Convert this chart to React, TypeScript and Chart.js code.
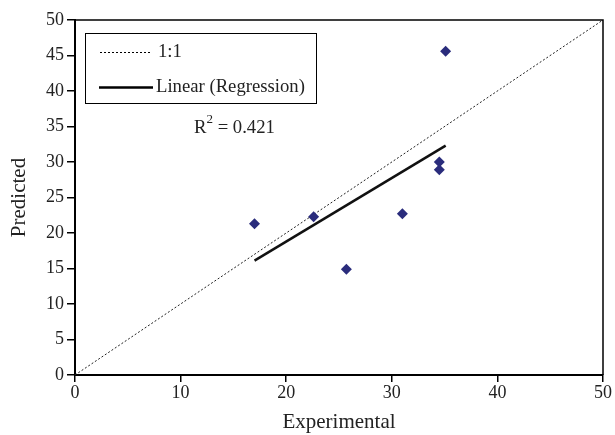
import React, { useEffect, useRef } from "react";
import { Chart, registerables } from "chart.js";

Chart.register(...registerables);

const experimental = [17.0, 22.6, 25.7, 31.0, 34.5, 34.5, 35.1];
const predicted = [21.3, 22.3, 14.9, 22.7, 30.0, 28.9, 45.6];
const identityX = [0, 50];
const identityY = [0, 50];
const regressionX = [17.0, 35.1];
const regressionY = [16.1, 32.3];
const legendLabels = ["1:1", "Linear (Regression)"];
const r2Text = "0.421";
const xTitle = "Experimental";
const yTitle = "Predicted";

const FONT = "'Liberation Serif', 'Times New Roman', serif";

const overlayPlugin = {
  id: "overlay",
  afterDraw(chart: any) {
    const ctx = chart.ctx;
    const a = chart.chartArea;
    ctx.save();
    // frame
    ctx.strokeStyle = "#000";
    ctx.lineWidth = 1.5;
    ctx.beginPath();
    ctx.moveTo(a.left, a.top);
    ctx.lineTo(a.right, a.top);
    ctx.lineTo(a.right, a.bottom);
    ctx.stroke();
    // legend box
    const bx = a.left + 10;
    const by = a.top + 13;
    const bw = 231;
    const bh = 70;
    ctx.lineWidth = 1;
    ctx.strokeRect(bx + 0.5, by + 0.5, bw, bh);
    // dotted sample
    ctx.lineWidth = 1;
    ctx.setLineDash([2, 2]);
    ctx.beginPath();
    ctx.moveTo(bx + 15, by + 19.5);
    ctx.lineTo(bx + 65, by + 19.5);
    ctx.stroke();
    ctx.setLineDash([]);
    ctx.lineWidth = 2.5;
    ctx.beginPath();
    ctx.moveTo(bx + 14, by + 54.5);
    ctx.lineTo(bx + 68, by + 54.5);
    ctx.stroke();
    ctx.fillStyle = "#222";
    ctx.font = "18.7px " + FONT;
    ctx.textBaseline = "middle";
    ctx.textAlign = "left";
    ctx.fillText(legendLabels[0], bx + 73, by + 19);
    ctx.fillText(legendLabels[1], bx + 71, by + 54);
    // R2
    const rx = a.left + 119;
    const ry = a.top + 108;
    ctx.fillText("R", rx, ry);
    const rw = ctx.measureText("R").width;
    ctx.font = "13px " + FONT;
    ctx.fillText("2", rx + rw, ry - 8);
    const sw = ctx.measureText("2").width;
    ctx.font = "18.7px " + FONT;
    ctx.fillText(" = " + r2Text, rx + rw + sw, ry);
    ctx.restore();
  },
};

export default function App() {
  const ref = useRef<HTMLCanvasElement | null>(null);
  useEffect(() => {
    if (!ref.current) return;
    const chart = new Chart(ref.current, {
      type: "scatter",
      data: {
        datasets: [
          {
            label: "Data",
            data: experimental.map((x, i) => ({ x, y: predicted[i] })),
            pointStyle: "rectRot",
            pointRadius: 5.5,
            backgroundColor: "#2a2c7c",
            borderColor: "#2a2c7c",
            borderWidth: 0,
            order: 0,
          },
          {
            type: "line",
            label: legendLabels[0],
            data: identityX.map((x, i) => ({ x, y: identityY[i] })),
            borderColor: "#222",
            borderWidth: 1,
            borderDash: [2, 2],
            pointRadius: 0,
            fill: false,
            order: 2,
          },
          {
            type: "line",
            label: legendLabels[1],
            data: regressionX.map((x, i) => ({ x, y: regressionY[i] })),
            borderColor: "#111",
            borderWidth: 2.5,
            pointRadius: 0,
            fill: false,
            order: 1,
          },
        ],
      },
      options: {
        animation: false,
        responsive: false,
        layout: { padding: { left: 0, right: 12, top: 20, bottom: 0 } },
        plugins: { legend: { display: false }, tooltip: { enabled: false } },
        scales: {
          x: {
            type: "linear",
            min: 0,
            max: 50,
            ticks: { stepSize: 10, color: "#222", font: { family: FONT, size: 18 }, padding: 0 },
            grid: { drawOnChartArea: false, drawTicks: true, tickLength: 7, color: "#000", lineWidth: 1.5 },
            border: { color: "#000", width: 2 },
            title: { display: true, text: xTitle, color: "#222", font: { family: FONT, size: 21 }, padding: { top: 2, bottom: 0 } },
            afterFit(scale: any) {
              scale.height = 60;
            },
          },
          y: {
            type: "linear",
            min: 0,
            max: 50,
            ticks: { stepSize: 5, color: "#222", font: { family: FONT, size: 18 }, padding: 3 },
            grid: { drawOnChartArea: false, drawTicks: true, tickLength: 8, color: "#000", lineWidth: 1.5 },
            border: { color: "#000", width: 2 },
            title: { display: true, text: yTitle, color: "#222", font: { family: FONT, size: 21 }, padding: { top: 7, bottom: 0 } },
            afterFit(scale: any) {
              scale.width = 75;
            },
          },
        },
      },
      plugins: [overlayPlugin],
    });
    return () => chart.destroy();
  }, []);
  return (
    <div style={{ position: "fixed", left: 0, top: 0, width: 615, height: 435, background: "#fff" }}>
      <canvas ref={ref} width={615} height={435} style={{ width: 615, height: 435 }} />
    </div>
  );
}
